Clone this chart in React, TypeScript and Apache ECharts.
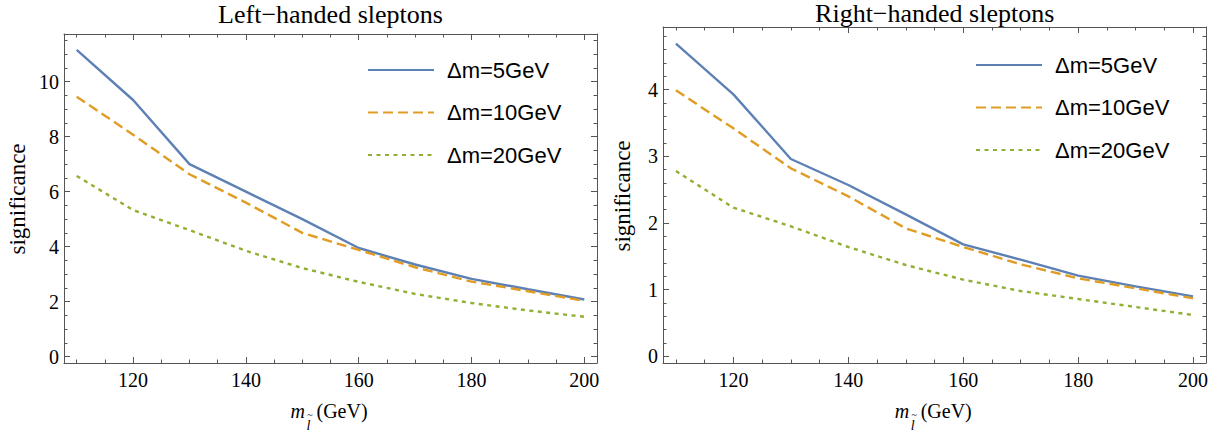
import React, { useEffect, useRef } from "react";
import * as echarts from "echarts";

// ---------- data ----------
const masses = [110, 120, 130, 140, 150, 160, 170, 180, 190, 200];
const seriesNames = ["Δm=5GeV", "Δm=10GeV", "Δm=20GeV"];

const leftDm5 = [11.15, 9.33, 7.0, 6.0, 5.0, 3.95, 3.35, 2.83, 2.45, 2.08];
const leftDm10 = [9.45, 8.07, 6.63, 5.6, 4.5, 3.88, 3.25, 2.73, 2.38, 2.03];
const leftDm20 = [6.57, 5.33, 4.6, 3.85, 3.22, 2.72, 2.28, 1.95, 1.68, 1.45];

const rightDm5 = [4.69, 3.93, 2.96, 2.57, 2.13, 1.68, 1.45, 1.21, 1.05, 0.9];
const rightDm10 = [3.99, 3.42, 2.82, 2.4, 1.92, 1.64, 1.38, 1.17, 1.02, 0.87];
const rightDm20 = [2.78, 2.23, 1.95, 1.64, 1.37, 1.15, 0.98, 0.86, 0.74, 0.62];

const xMajorTicks = [120, 140, 160, 180, 200];
const xMinorTicks = [110, 115, 120, 125, 130, 135, 140, 145, 150, 155, 160, 165, 170, 175, 180, 185, 190, 195, 200];
const leftYMajor = [0, 2, 4, 6, 8, 10];
const leftYMinor = [0, 0.5, 1, 1.5, 2, 2.5, 3, 3.5, 4, 4.5, 5, 5.5, 6, 6.5, 7, 7.5, 8, 8.5, 9, 9.5, 10, 10.5, 11, 11.5];
const rightYMajor = [0, 1, 2, 3, 4];
const rightYMinor = [0, 0.2, 0.4, 0.6, 0.8, 1, 1.2, 1.4, 1.6, 1.8, 2, 2.2, 2.4, 2.6, 2.8, 3, 3.2, 3.4, 3.6, 3.8, 4, 4.2, 4.4, 4.6, 4.8];

const titles = ["Left−handed sleptons", "Right−handed sleptons"];
const yAxisTitle = "significance";

// ---------- styling ----------
const X_MIN = 107.75;
const X_MAX = 202.25;
const colors = ["#5E81B5", "#E19C24", "#8FB032"];
const dashes: any[] = ["solid", [10, 5], [4, 4.5]];
const frameColor = "#555555";
const serif = "Liberation Serif";
const sans = "Liberation Sans";

export default function App() {
  const ref = useRef<HTMLDivElement>(null);

  useEffect(() => {
    if (!ref.current) return;
    const chart = echarts.init(ref.current, undefined, { renderer: "svg" });

    const grids = [
      { left: 64, right: 1225 - 597, top: 34, bottom: 437 - 363 },
      { left: 663, right: 1225 - 1206, top: 27, bottom: 437 - 363 },
    ];
    const yRanges = [
      { min: -0.23, max: 11.73, major: leftYMajor, minor: leftYMinor },
      { min: -0.1, max: 4.94, major: rightYMajor, minor: rightYMinor },
    ];
    const panelData = [
      [leftDm5, leftDm10, leftDm20],
      [rightDm5, rightDm10, rightDm20],
    ];

    const xAxes: any[] = [];
    const yAxes: any[] = [];
    const series: any[] = [];

    const labelStyle = { color: "#000", fontFamily: serif, fontSize: 20, fontWeight: "normal", fontStyle: "normal" };

    const mkX = (gridIndex: number, position: string, ticks: number[], len: number, showLabel: boolean, showLine: boolean) => ({
      type: "value",
      gridIndex,
      position,
      min: X_MIN,
      max: X_MAX,
      splitLine: { show: false },
      axisLine: { show: showLine, onZero: false, lineStyle: { color: frameColor, width: 1 } },
      axisTick: { show: true, inside: true, length: len, customValues: ticks, lineStyle: { color: frameColor, width: 1 } },
      axisLabel: { show: showLabel, customValues: ticks, margin: 7, ...labelStyle },
    });
    const mkY = (gridIndex: number, position: string, min: number, max: number, ticks: number[], len: number, showLabel: boolean, showLine: boolean) => ({
      type: "value",
      gridIndex,
      position,
      min,
      max,
      splitLine: { show: false },
      axisLine: { show: showLine, onZero: false, lineStyle: { color: frameColor, width: 1 } },
      axisTick: { show: true, inside: true, length: len, customValues: ticks, lineStyle: { color: frameColor, width: 1 } },
      axisLabel: { show: showLabel, customValues: ticks, margin: 5, ...labelStyle },
    });

    for (let p = 0; p < 2; p++) {
      const yr = yRanges[p];
      xAxes.push(mkX(p, "bottom", xMajorTicks, 6, true, true));
      xAxes.push(mkX(p, "bottom", xMinorTicks, 3.5, false, false));
      xAxes.push(mkX(p, "top", xMajorTicks, 6, false, true));
      xAxes.push(mkX(p, "top", xMinorTicks, 3.5, false, false));
      yAxes.push(mkY(p, "left", yr.min, yr.max, yr.major, 6, true, true));
      yAxes.push(mkY(p, "left", yr.min, yr.max, yr.minor, 3.5, false, false));
      yAxes.push(mkY(p, "right", yr.min, yr.max, yr.major, 6, false, true));
      yAxes.push(mkY(p, "right", yr.min, yr.max, yr.minor, 3.5, false, false));
      panelData[p].forEach((vals, k) => {
        series.push({
          type: "line",
          name: seriesNames[k],
          xAxisIndex: p * 4,
          yAxisIndex: p * 4,
          data: masses.map((m, j) => [m, vals[j]]),
          symbol: "none",
          silent: true,
          itemStyle: { color: colors[k] },
          lineStyle: { color: colors[k], width: 2.4, type: dashes[k], cap: "butt" },
        });
      });
    }

    const legendCommon = {
      orient: "vertical",
      padding: 0,
      itemWidth: 66,
      itemHeight: 24,
      itemGap: 20.5,
      selectedMode: false,
      data: seriesNames,
      itemStyle: { opacity: 0 },
      textStyle: { fontFamily: sans, fontSize: 22, fontWeight: "normal", fontStyle: "normal", color: "#000", padding: [0, 0, 0, 8] },
    };

    const centers = [330.5, 934.7];
    const graphic: any[] = [];
    const txt = (extra: any) => ({ fontFamily: serif, fontWeight: "normal", fontStyle: "normal", fill: "#000", ...extra });
    // y-axis titles
    [
      { x: 17, y: 199 },
      { x: 622, y: 196 },
    ].forEach((pos) => {
      graphic.push({
        type: "text",
        x: pos.x,
        y: pos.y,
        rotation: Math.PI / 2,
        silent: true,
        style: txt({ text: yAxisTitle, fontSize: 23, align: "center", verticalAlign: "middle" }),
      });
    });
    // x-axis titles: m_{l~}(GeV)
    centers.forEach((cx) => {
      graphic.push({
        type: "group",
        x: cx,
        y: 0,
        silent: true,
        children: [
          { type: "text", x: -40, y: 411, style: txt({ text: "m", fontStyle: "italic", fontSize: 20, align: "left", verticalAlign: "middle" }) },
          { type: "text", x: -24, y: 425, style: txt({ text: "l", fontStyle: "italic", fontSize: 14, align: "left", verticalAlign: "middle" }) },
          { type: "text", x: -20.5, y: 414, style: txt({ text: "~", fontSize: 10, align: "center", verticalAlign: "middle" }) },
          { type: "text", x: -14, y: 411, style: txt({ text: "(GeV)", fontSize: 20, align: "left", verticalAlign: "middle" }) },
        ],
      });
    });

    const titleStyle = { fontFamily: serif, fontSize: 26, fontWeight: "normal", fontStyle: "normal", color: "#000" };

    chart.setOption({
      animation: false,
      backgroundColor: "#ffffff",
      title: [
        { text: titles[0], left: centers[0], top: 1, textAlign: "center", padding: 0, textStyle: titleStyle },
        { text: titles[1], left: centers[1], top: 0, textAlign: "center", padding: 0, textStyle: titleStyle },
      ],
      legend: [
        { ...legendCommon, left: 367, top: 59 },
        { ...legendCommon, left: 975, top: 54 },
      ],
      grid: grids.map((g) => ({ ...g, outerBoundsMode: "none", containLabel: false })),
      xAxis: xAxes,
      yAxis: yAxes,
      series,
      graphic,
    });

    return () => chart.dispose();
  }, []);

  return (
    <div
      ref={ref}
      style={{ position: "absolute", left: 0, top: 0, width: 1225, height: 437, background: "#fff" }}
    />
  );
}
